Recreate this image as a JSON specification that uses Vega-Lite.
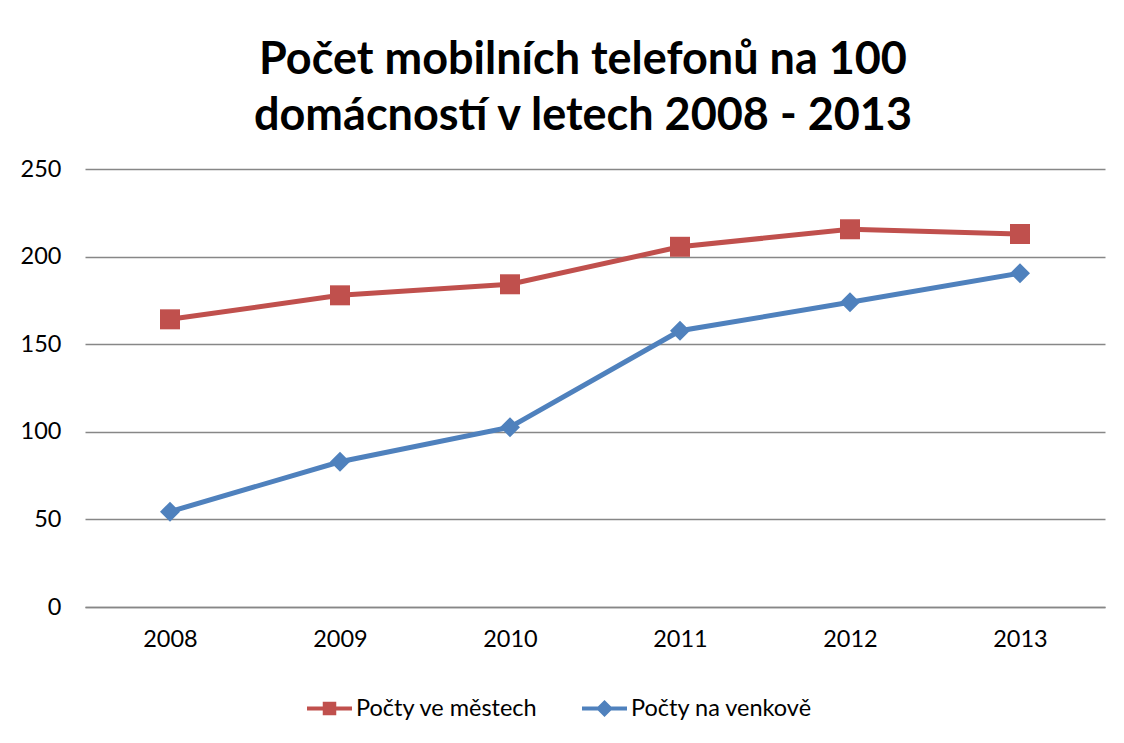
{
  "$schema": "https://vega.github.io/schema/vega-lite/v6.json",
  "autosize": "none",
  "width": 1020,
  "height": 438,
  "padding": {"left": 85, "top": 169, "right": 19, "bottom": 136},
  "background": "white",
  "config": {
    "font": "Lato",
    "view": {"stroke": null},
    "axis": {"labelFont": "Lato", "labelFontSize": 23.5, "labelColor": "#000000", "tickSize": 0, "gridColor": "#878787", "gridWidth": 1.5, "domainColor": "#878787", "domainWidth": 1.5, "title": null},
    "legend": {
      "title": null,
      "orient": "none",
      "legendX": 222,
      "legendY": 517,
      "direction": "horizontal",
      "labelFont": "Lato",
      "labelFontSize": 23.5,
      "labelColor": "#000000",
      "labelLimit": 0,
      "symbolSize": 2025,
      "symbolOffset": 0,
      "symbolStrokeWidth": 0,
      "columnPadding": 44,
      "labelOffset": 4
    }
  },
  "title": {
    "text": ["Počet mobilních telefonů na 100", "domácností v letech 2008 - 2013"],
    "font": "Lato",
    "fontSize": 45,
    "fontWeight": "bold",
    "color": "#000000",
    "lineHeight": 56,
    "anchor": "middle",
    "dx": -12,
    "offset": 18
  },
  "data": {
    "values": [
      {"rok": "2008", "serie": "Počty ve městech", "hodnota": 164.2},
      {"rok": "2009", "serie": "Počty ve městech", "hodnota": 177.9},
      {"rok": "2010", "serie": "Počty ve městech", "hodnota": 184.2},
      {"rok": "2011", "serie": "Počty ve městech", "hodnota": 205.6},
      {"rok": "2012", "serie": "Počty ve městech", "hodnota": 215.6},
      {"rok": "2013", "serie": "Počty ve městech", "hodnota": 212.9},
      {"rok": "2008", "serie": "Počty na venkově", "hodnota": 54.4},
      {"rok": "2009", "serie": "Počty na venkově", "hodnota": 82.9},
      {"rok": "2010", "serie": "Počty na venkově", "hodnota": 102.6},
      {"rok": "2011", "serie": "Počty na venkově", "hodnota": 157.7},
      {"rok": "2012", "serie": "Počty na venkově", "hodnota": 173.9},
      {"rok": "2013", "serie": "Počty na venkově", "hodnota": 190.5}
    ]
  },
  "encoding": {
    "x": {"field": "rok", "type": "ordinal", "scale": {"type": "point", "padding": 0.5},
          "axis": {"labelAngle": 0, "labelPadding": 20, "grid": false, "domain": true}},
    "y": {"field": "hodnota", "type": "quantitative", "scale": {"domain": [0, 250], "nice": false},
          "axis": {"values": [0, 50, 100, 150, 200, 250], "labelPadding": 24, "domain": false, "grid": true}}
  },
  "layer": [
    {
      "transform": [{"filter": "datum.hodnota < 0"}],
      "mark": {"type": "point", "filled": true, "opacity": 1},
      "encoding": {
        "color": {"field": "serie", "type": "nominal",
                  "scale": {"domain": ["Počty ve městech", "Počty na venkově"], "range": ["#C0504D", "#4F81BD"]}},
        "shape": {"field": "serie", "type": "nominal",
                  "scale": {"domain": ["Počty ve městech", "Počty na venkově"],
                            "range": ["M-1,-0.09H1V0.09H-1Z M-0.3,-0.3H0.3V0.3H-0.3Z", "M-1,-0.09H1V0.09H-1Z M0,-0.38L0.38,0L0,0.38L-0.38,0Z"]}}
      }
    },
    {
      "mark": {"type": "line", "strokeWidth": 5},
      "encoding": {
        "color": {"field": "serie", "type": "nominal",
                  "scale": {"domain": ["Počty ve městech", "Počty na venkově"], "range": ["#C0504D", "#4F81BD"]},
                  "legend": null}
      }
    },
    {
      "mark": {"type": "point", "filled": true, "opacity": 1, "size": 400},
      "encoding": {
        "color": {"field": "serie", "type": "nominal",
                  "scale": {"domain": ["Počty ve městech", "Počty na venkově"], "range": ["#C0504D", "#4F81BD"]},
                  "legend": null},
        "shape": {"field": "serie", "type": "nominal",
                  "scale": {"domain": ["Počty ve městech", "Počty na venkově"], "range": ["square", "diamond"]},
                  "legend": null}
      }
    }
  ],
  "resolve": {
    "scale": {"shape": "independent", "color": "independent"},
    "legend": {"shape": "independent", "color": "independent"}
  }
}
